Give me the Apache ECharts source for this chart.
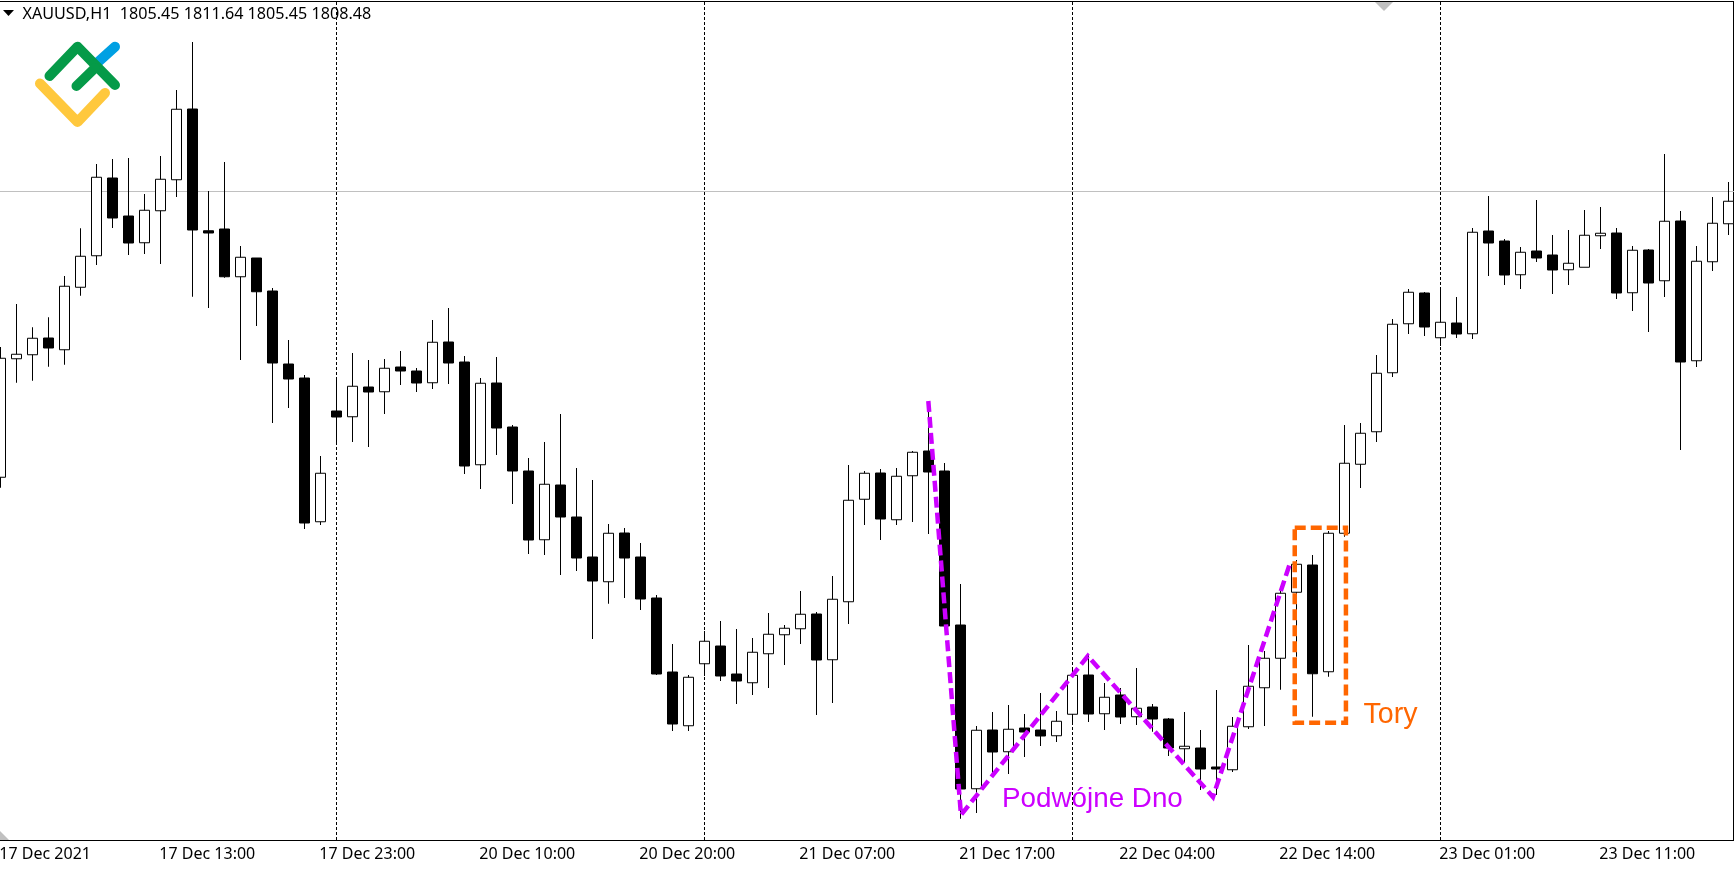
<!DOCTYPE html>
<html>
<head>
<meta charset="utf-8">
<title>XAUUSD H1</title>
<script src="https://cdn.jsdelivr.net/npm/echarts@6/dist/echarts.min.js"></script>
<style>
  html, body { margin: 0; padding: 0; background: #fff; overflow: hidden; }
  #chart { width: 1734px; height: 869px; }
</style>
</head>
<body>
<div id="chart"></div>
<script>
// hourly bars (prices are estimated, the price scale is cropped away)
const opens = [
  1798.59, 1803.33, 1803.49, 1804.16, 1803.69, 1806.19, 1807.45, 1810.56, 1809.04, 1807.97,
  1809.25, 1810.49, 1813.32, 1808.45, 1808.52, 1806.61, 1807.36, 1806.04, 1803.12, 1802.56,
  1796.81, 1801.24, 1801.01, 1802.20, 1802.01, 1803.00, 1802.84, 1802.37, 1804.00, 1803.20,
  1799.09, 1802.36, 1800.60, 1798.84, 1796.09, 1798.28, 1797.00, 1795.40, 1794.41, 1796.36,
  1795.40, 1793.76, 1790.80, 1788.65, 1791.13, 1791.84, 1790.72, 1790.37, 1791.53, 1792.29,
  1792.53, 1793.12, 1791.29, 1793.61, 1797.71, 1798.76, 1796.89, 1798.65, 1799.64, 1798.84,
  1792.68, 1786.13, 1788.48, 1787.61, 1788.56, 1788.48, 1788.25, 1789.11, 1790.68, 1789.13,
  1789.88, 1789.01, 1789.40, 1788.92, 1787.73, 1787.76, 1787.00, 1786.89, 1788.61, 1790.17,
  1791.35, 1793.99, 1795.08, 1790.81, 1796.35, 1799.11, 1800.41, 1802.77, 1804.73, 1805.96,
  1804.17, 1804.76, 1804.33, 1808.44, 1808.04, 1806.69, 1807.64, 1807.48, 1806.89, 1806.99,
  1808.25, 1808.36, 1805.97, 1807.68, 1806.45, 1808.84, 1803.25, 1807.21, 1808.73
];
const closes = [
  1803.35, 1803.51, 1804.15, 1803.76, 1806.23, 1807.43, 1810.59, 1808.96, 1807.96, 1809.27,
  1810.51, 1813.31, 1808.48, 1808.36, 1806.61, 1807.39, 1806.01, 1803.16, 1802.52, 1796.76,
  1798.75, 1801.00, 1802.23, 1802.00, 1802.95, 1802.84, 1802.36, 1803.99, 1803.16, 1799.04,
  1802.35, 1800.56, 1798.84, 1796.08, 1798.31, 1797.00, 1795.36, 1794.44, 1796.35, 1795.36,
  1793.72, 1790.72, 1788.72, 1790.59, 1792.03, 1790.64, 1790.44, 1791.59, 1792.31, 1792.55,
  1793.11, 1791.28, 1793.71, 1797.67, 1798.75, 1796.92, 1798.63, 1799.59, 1798.80, 1792.64,
  1786.12, 1788.47, 1787.60, 1788.51, 1788.40, 1788.24, 1788.83, 1790.67, 1789.12, 1789.79,
  1789.00, 1789.35, 1788.92, 1787.76, 1787.83, 1786.92, 1786.92, 1788.63, 1790.23, 1791.35,
  1793.95, 1795.11, 1790.73, 1796.35, 1799.15, 1800.35, 1802.75, 1804.71, 1805.99, 1804.60,
  1804.79, 1804.32, 1808.39, 1807.96, 1806.68, 1807.59, 1807.36, 1806.88, 1807.15, 1808.27,
  1808.35, 1805.96, 1807.67, 1806.36, 1808.83, 1803.20, 1807.23, 1808.75, 1809.63
];
const lows = [
  1798.17, 1802.37, 1802.45, 1803.01, 1803.09, 1805.85, 1807.08, 1808.56, 1807.48, 1807.52,
  1807.12, 1809.80, 1805.81, 1805.36, 1806.57, 1803.28, 1804.64, 1800.76, 1801.36, 1796.52,
  1796.68, 1800.00, 1800.00, 1799.80, 1801.12, 1802.28, 1802.00, 1802.12, 1802.32, 1798.72,
  1798.12, 1799.48, 1797.52, 1795.52, 1795.48, 1794.68, 1794.84, 1792.12, 1793.53, 1793.76,
  1793.28, 1790.68, 1788.44, 1788.44, 1790.64, 1790.44, 1789.52, 1789.88, 1790.16, 1791.08,
  1791.92, 1789.08, 1789.56, 1792.72, 1796.68, 1796.08, 1796.68, 1796.80, 1796.32, 1792.56,
  1784.93, 1785.16, 1786.76, 1786.72, 1787.40, 1787.84, 1788.00, 1788.72, 1788.80, 1788.48,
  1788.72, 1788.68, 1788.41, 1787.44, 1787.16, 1786.08, 1785.88, 1786.80, 1788.52, 1788.64,
  1790.09, 1791.41, 1789.01, 1790.61, 1796.21, 1798.16, 1800.00, 1802.60, 1804.32, 1804.24,
  1803.84, 1804.16, 1804.12, 1806.64, 1806.28, 1806.12, 1807.20, 1805.92, 1806.28, 1806.99,
  1807.72, 1805.72, 1805.24, 1804.40, 1805.80, 1799.68, 1803.00, 1806.84, 1808.28
];
const highs = [
  1803.80, 1805.52, 1804.59, 1804.99, 1806.64, 1808.55, 1811.12, 1811.32, 1811.36, 1809.92,
  1811.44, 1814.08, 1816.00, 1810.04, 1811.20, 1807.84, 1807.36, 1806.16, 1804.08, 1802.68,
  1799.44, 1802.60, 1803.56, 1803.28, 1803.32, 1803.64, 1802.96, 1804.88, 1805.36, 1803.44,
  1802.56, 1803.40, 1800.68, 1799.36, 1800.00, 1801.12, 1798.96, 1798.48, 1796.72, 1796.56,
  1795.96, 1793.88, 1791.92, 1790.68, 1792.44, 1792.84, 1792.52, 1792.16, 1793.16, 1792.68,
  1794.04, 1793.20, 1794.64, 1799.08, 1798.84, 1798.92, 1798.96, 1799.64, 1801.48, 1799.16,
  1794.32, 1788.64, 1789.20, 1789.48, 1789.12, 1789.96, 1789.24, 1790.92, 1791.52, 1790.36,
  1790.16, 1790.96, 1789.52, 1788.96, 1789.20, 1788.48, 1790.08, 1789.00, 1791.88, 1791.64,
  1794.08, 1795.28, 1795.48, 1796.44, 1800.68, 1800.76, 1803.48, 1804.92, 1806.12, 1806.00,
  1806.12, 1805.80, 1808.56, 1809.84, 1808.12, 1807.80, 1809.68, 1808.28, 1808.48, 1809.28,
  1809.40, 1808.56, 1807.84, 1807.72, 1811.52, 1809.24, 1807.84, 1809.80, 1810.40
];

// one label every ten bars, starting at bar 0
const tickLabels = [
  '17 Dec 2021', '17 Dec 13:00', '17 Dec 23:00', '20 Dec 10:00', '20 Dec 20:00', '21 Dec 07:00',
  '21 Dec 17:00', '22 Dec 04:00', '22 Dec 14:00', '23 Dec 01:00', '23 Dec 11:00'
];
// first bar of each trading day
const daySeparators = [21, 44, 67, 90];
const askLine = 1810.02;

// hand drawn annotations, x is in bars
const patternX = [58.0, 60.04, 67.97, 75.79, 80.65];
const patternY = [1801.64, 1785.08, 1791.44, 1785.80, 1795.24];
const boxX = [80.9, 84.1, 84.1, 80.9, 80.9];
const boxY = [1796.57, 1796.57, 1788.77, 1788.77, 1796.57];

const MAGENTA = '#cc00ff';
const ORANGE = '#ff6600';
const LOGO_GREEN = '#059a48';
const LABEL_FONT = '"Noto Sans", sans-serif';

const categories = opens.map((_, i) => String(i));
const candles = opens.map((o, i) => [o, closes[i], lows[i], highs[i]]);

function pairs(xs, ys) {
  return xs.map((x, i) => [x, ys[i]]);
}

function logoStroke(points, color) {
  return {
    type: 'polyline',
    shape: { points: points },
    style: { stroke: color, fill: null, lineWidth: 10, lineCap: 'round', lineJoin: 'round' },
    silent: true
  };
}

function annotationText(text, x, y, color, size) {
  return {
    type: 'text',
    x: x,
    y: y,
    silent: true,
    style: { text: text, fill: color, font: size + 'px "Liberation Sans", Arial, sans-serif', textVerticalAlign: 'bottom' }
  };
}

const chart = echarts.init(document.getElementById('chart'), null, { renderer: 'canvas' });

chart.setOption({
  animation: false,
  backgroundColor: '#ffffff',
  // bars are 16px apart, the first one sits on the left edge
  grid: { left: -7.67, top: 0, width: 1744, height: 840, outerBoundsMode: 'none' },
  xAxis: [
    {
      type: 'category',
      data: categories,
      boundaryGap: true,
      axisLine: { lineStyle: { color: '#000', width: 1 } },
      axisTick: { alignWithLabel: true, interval: 9, length: 4, lineStyle: { color: '#000' } },
      axisLabel: {
        interval: 9,
        align: 'left',
        margin: 6,
        padding: [0, 0, 0, -1],
        color: '#000',
        fontFamily: '"Noto Sans", sans-serif',
        fontSize: 16,
        formatter: (value) => tickLabels[Number(value) / 10]
      },
      splitLine: { show: false }
    },
    { type: 'value', min: -0.5, max: 108.5, show: false }
  ],
  yAxis: { type: 'value', min: 1784.08, max: 1817.68, show: false, splitLine: { show: false } },
  series: [
    {
      // separators and the grey price line stay behind the candles
      type: 'line',
      xAxisIndex: 1,
      data: [],
      z: 1,
      silent: true,
      markLine: {
        z: 1,
        silent: true,
        symbol: 'none',
        label: { show: false },
        lineStyle: { color: '#000', type: [3, 2], width: 1 },
        data: daySeparators.map((d) => ({ xAxis: d })).concat([
          { yAxis: askLine, lineStyle: { color: '#c0c0c0', type: 'solid', width: 1 } }
        ])
      }
    },
    {
      type: 'candlestick',
      data: candles,
      barWidth: 10,
      z: 2,
      silent: true,
      itemStyle: { color: '#fff', color0: '#000', borderColor: '#000', borderColor0: '#000', borderWidth: 1 }
    },
    {
      type: 'line',
      xAxisIndex: 1,
      data: pairs(patternX, patternY),
      symbol: 'none',
      z: 5,
      silent: true,
      lineStyle: { color: MAGENTA, width: 4.5, type: [11, 5], join: 'miter' }
    },
    {
      type: 'line',
      xAxisIndex: 1,
      data: pairs(boxX, boxY),
      symbol: 'none',
      z: 5,
      silent: true,
      lineStyle: { color: ORANGE, width: 4.5, type: [11, 5], join: 'miter' }
    }
  ],
  graphic: [
    // window frame
    { type: 'rect', shape: { x: 0, y: 1, width: 1734, height: 1 }, style: { fill: '#000' }, silent: true },
    { type: 'rect', shape: { x: 1733, y: 1, width: 1, height: 840 }, style: { fill: '#000' }, silent: true },
    { type: 'polygon', shape: { points: [[1375, 2], [1393, 2], [1384, 11]] }, style: { fill: '#c0c0c0' }, silent: true },
    { type: 'polygon', shape: { points: [[0, 831], [9, 840], [0, 840]] }, style: { fill: '#c0c0c0' }, silent: true },
    // header
    { type: 'polygon', shape: { points: [[3, 10], [14, 10], [8.5, 16]] }, style: { fill: '#000' }, silent: true },
    {
      type: 'text', x: 22.5, y: 14, silent: true,
      style: { text: 'XAUUSD,H1  1805.45 1811.64 1805.45 1808.48', fill: '#000', font: '16.15px ' + LABEL_FONT, textVerticalAlign: 'middle' }
    },
    // logo
    logoStroke([[97, 63], [115, 46.7]], '#00a0e3'),
    logoStroke([[49.5, 76], [77.5, 46.7], [115, 85]], LOGO_GREEN),
    logoStroke([[76.5, 86], [95, 68]], LOGO_GREEN),
    logoStroke([[40, 83.5], [77.5, 122], [105, 93]], '#ffc83d'),
    // annotation labels
    annotationText('Podwójne Dno', 1002, 813, MAGENTA, 27.8),
    annotationText('Tory', 1363.5, 730, ORANGE, 28.6)
  ]
});
</script>
</body>
</html>
